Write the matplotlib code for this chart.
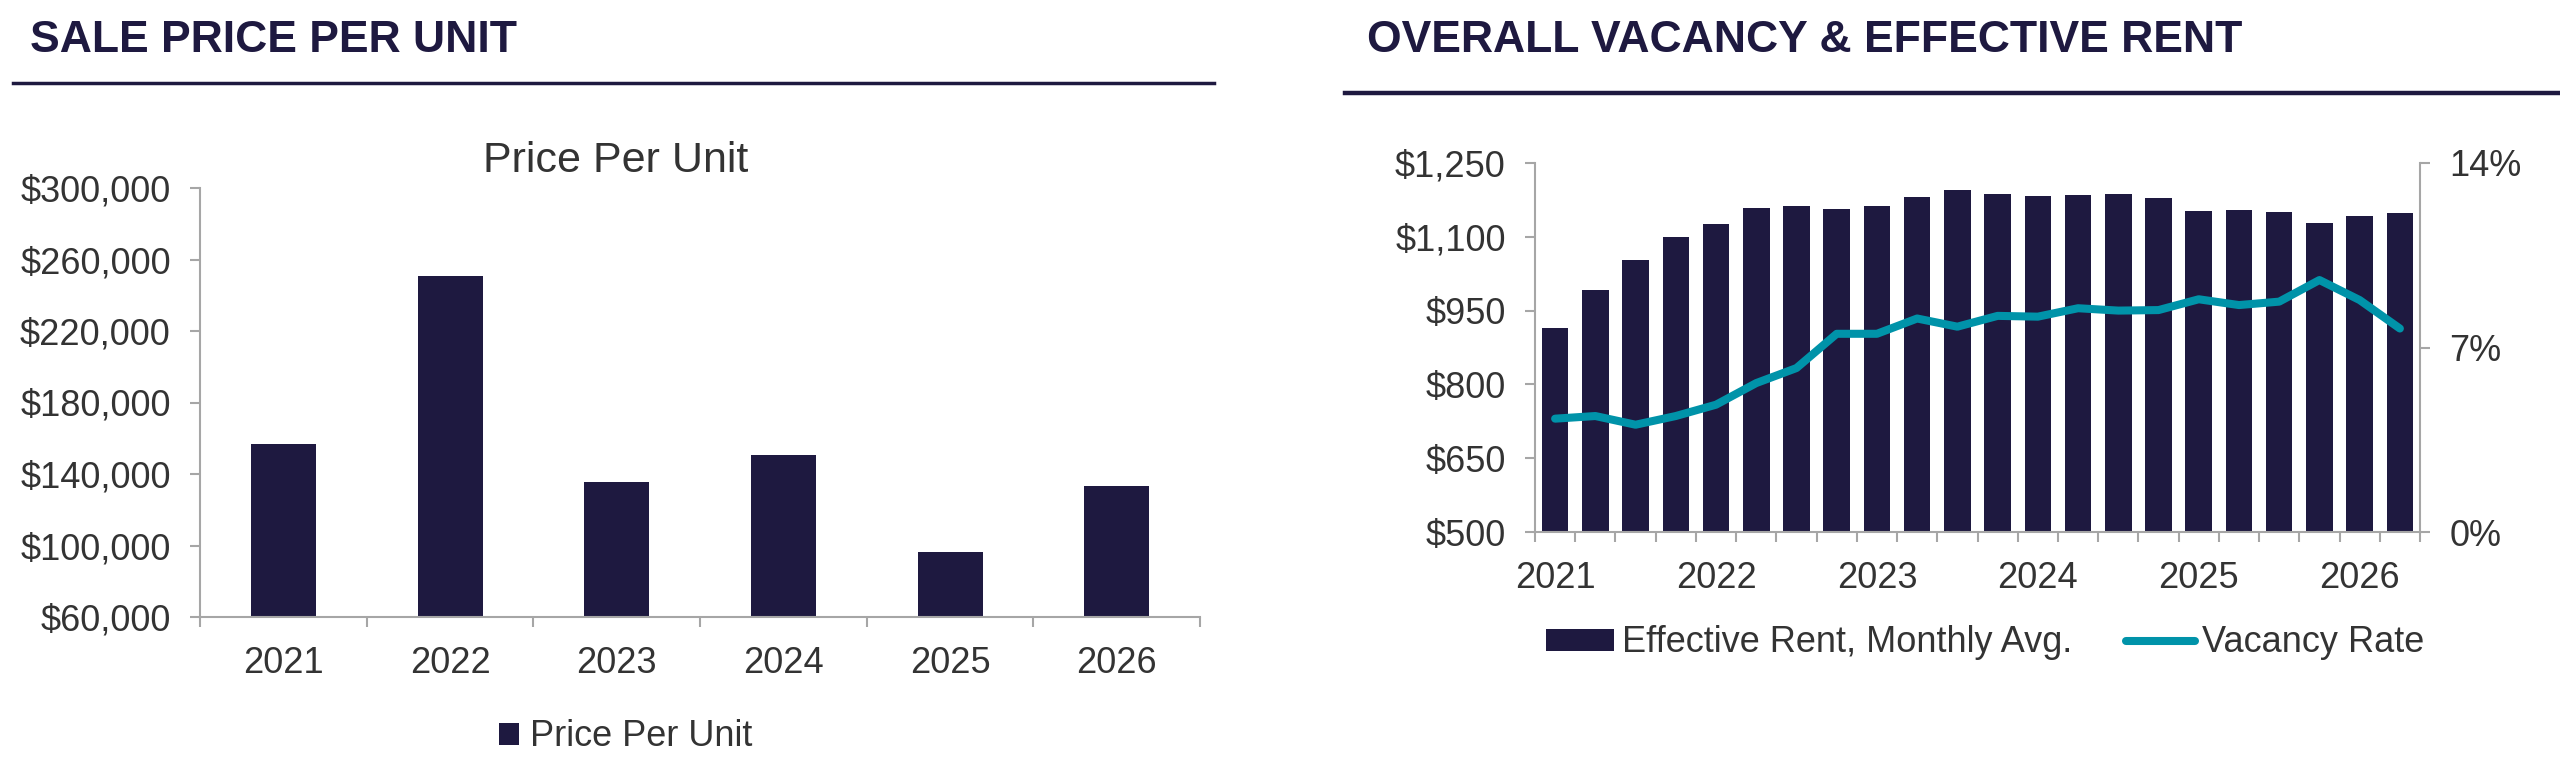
import matplotlib
matplotlib.use("Agg")
import matplotlib.pyplot as plt
from matplotlib.ticker import FuncFormatter, FixedLocator

plt.rcParams["font.family"] = ["Liberation Sans", "DejaVu Sans"]

NAVY = "#1e1940"
TEAL = "#0093a9"
GREY = "#a6a6a6"
TXT = "#333333"

# sale price per unit
years = ["2021", "2022", "2023", "2024", "2025", "2026"]
price_per_unit = [157000, 251000, 135500, 150500, 96500, 133500]

# quarterly effective rent and vacancy, 2021 Q1 .. 2026 Q2
quarters = ["2021", "", "", "", "2022", "", "", "", "2023", "", "", "",
            "2024", "", "", "", "2025", "", "", "", "2026", ""]
eff_rent = [914, 991, 1052, 1099, 1126, 1158, 1163, 1157, 1163, 1181, 1195,
            1186, 1182, 1185, 1186, 1178, 1153, 1155, 1150, 1129, 1142, 1148]
vacancy = [4.3, 4.4, 4.07, 4.4, 4.83, 5.65, 6.22, 7.52, 7.52, 8.1, 7.79,
           8.2, 8.17, 8.49, 8.4, 8.42, 8.83, 8.61, 8.74, 9.56, 8.8, 7.72]

FS = 26

fig = plt.figure(figsize=(25.6, 7.77), dpi=100)


def style_axis(ax):
    for s in ["top", "right"]:
        ax.spines[s].set_visible(False)
    for s in ["left", "bottom"]:
        ax.spines[s].set_color(GREY)
        ax.spines[s].set_linewidth(1.5)
    ax.tick_params(axis="y", colors=GREY, labelcolor=TXT, labelsize=FS,
                   length=7, width=1.5, pad=14)
    ax.tick_params(axis="x", which="major", length=0, labelcolor=TXT,
                   labelsize=FS, pad=21)
    ax.tick_params(axis="x", which="minor", length=7, width=1.5, colors=GREY)


# ---- headers
fig.text(30 / 2560, 1 - 41 / 777, "SALE PRICE PER UNIT", fontsize=32,
         fontweight="bold", color=NAVY, va="center", ha="left")
fig.text(1367 / 2560, 1 - 41 / 777, "OVERALL VACANCY & EFFECTIVE RENT",
         fontsize=32, fontweight="bold", color=NAVY, va="center", ha="left")
fig.add_artist(plt.Line2D([13 / 2560, 1214 / 2560], [1 - 83 / 777] * 2,
                          color=NAVY, lw=2.5))
fig.add_artist(plt.Line2D([1345 / 2560, 1.0], [1 - 93 / 777] * 2,
                          color=NAVY, lw=3.2))

# ---- left chart
ax1 = fig.add_axes([200 / 2560, 1 - 617 / 777, 1000 / 2560, 429 / 777])
x1 = list(range(len(years)))
ax1.bar(x1, price_per_unit, width=0.39, color=NAVY, label="Price Per Unit")
ax1.set_ylim(60000, 300000)
ax1.set_yticks(range(60000, 300001, 40000))
ax1.yaxis.set_major_formatter(FuncFormatter(lambda v, p: f"${v:,.0f}"))
ax1.set_xlim(-0.5, len(years) - 0.5)
ax1.set_xticks(x1)
ax1.set_xticklabels(years)
ax1.xaxis.set_minor_locator(FixedLocator([i - 0.5 for i in range(len(years) + 1)]))
style_axis(ax1)
fig.text(616 / 2560, 1 - 161 / 777, "Price Per Unit", fontsize=31,
         color=TXT, ha="center", va="center")
ax1.legend(loc="center", bbox_to_anchor=(626 / 2560, 1 - 737 / 777),
           bbox_transform=fig.transFigure, frameon=False, fontsize=FS,
           handlelength=0.55, handleheight=0.55, handletextpad=0.3,
           labelcolor=TXT)

# ---- right chart
ax2 = fig.add_axes([1535 / 2560, 1 - 532 / 777, 885 / 2560, 369 / 777])
x2 = list(range(len(eff_rent)))
bars = ax2.bar(x2, eff_rent, width=0.66, color=NAVY,
               label="Effective Rent, Monthly Avg.")
ax2.set_ylim(500, 1250)
ax2.set_yticks(range(500, 1251, 150))
ax2.yaxis.set_major_formatter(FuncFormatter(lambda v, p: f"${v:,.0f}"))
ax2.set_xlim(-0.5, len(eff_rent) - 0.5)
ax2.set_xticks([i for i, q in enumerate(quarters) if q])
ax2.set_xticklabels([q for q in quarters if q])
ax2.xaxis.set_minor_locator(FixedLocator([i - 0.5 for i in range(len(eff_rent) + 1)]))
style_axis(ax2)

ax3 = ax2.twinx()
line, = ax3.plot(x2, vacancy, color=TEAL, lw=5.8, solid_joinstyle="round",
                 solid_capstyle="round", label="Vacancy Rate")
ax3.set_ylim(0, 14)
ax3.set_yticks([0, 7, 14])
ax3.yaxis.set_major_formatter(FuncFormatter(lambda v, p: f"{v:.0f}%"))
for s in ["top", "left", "bottom"]:
    ax3.spines[s].set_visible(False)
ax3.spines["right"].set_color(GREY)
ax3.spines["right"].set_linewidth(1.5)
ax3.tick_params(axis="y", colors=GREY, labelcolor=TXT, labelsize=FS,
                length=7, width=1.5, pad=14)

ax2.legend([bars, line], ["Effective Rent, Monthly Avg.", "Vacancy Rate"],
           loc="center", ncol=2, bbox_to_anchor=(1985 / 2560, 1 - 643 / 777),
           bbox_transform=fig.transFigure, frameon=False, fontsize=FS,
           handlelength=1.9, handleheight=0.55, handletextpad=0.2,
           columnspacing=1.5, labelcolor=TXT)

fig.savefig("out.png", dpi=100)
